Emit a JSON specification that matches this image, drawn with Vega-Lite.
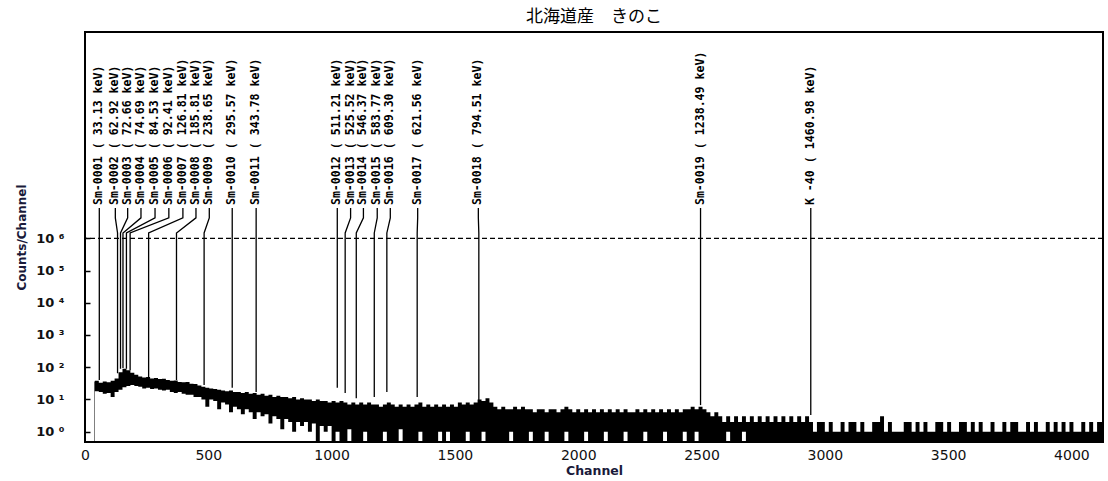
{
  "$schema": "https://vega.github.io/schema/vega-lite/v6.json",
  "width": 1018,
  "height": 410,
  "autosize": {"type": "none"},
  "padding": {"left": 85, "top": 32, "right": 5, "bottom": 39},
  "background": "white",
  "title": {"text": "北海道産　きのこ", "font": "Noto Sans CJK JP", "fontSize": 17, "fontWeight": "normal", "color": "#000", "offset": 6, "anchor": "middle"},
  "config": {"view": {"stroke": "#000", "strokeWidth": 2}},
  "datasets": {
    "spec": [
      {"c":38,"h":36,"l":0.5},{"c":40,"h":38,"l":18},{"c":56,"h":33,"l":17},{"c":72,"h":36,"l":15},{"c":88,"h":34,"l":16},{"c":104,"h":38,"l":12},{"c":120,"h":45,"l":17},
      {"c":136,"h":70,"l":20},{"c":152,"h":90,"l":24},{"c":168,"h":80,"l":26},{"c":184,"h":68,"l":28},{"c":200,"h":58,"l":26},
      {"c":216,"h":52,"l":25},{"c":232,"h":48,"l":22},{"c":248,"h":50,"l":23},{"c":264,"h":45,"l":21},{"c":280,"h":46,"l":22},{"c":296,"h":43,"l":20},
      {"c":312,"h":44,"l":19},{"c":328,"h":40,"l":20},{"c":344,"h":38,"l":17},{"c":360,"h":39,"l":16},{"c":376,"h":35,"l":17},{"c":392,"h":34,"l":15},
      {"c":408,"h":35,"l":14},{"c":424,"h":31,"l":14},{"c":440,"h":30,"l":12},
      {"c":456,"h":27,"l":12},{"c":472,"h":25,"l":10},{"c":488,"h":23,"l":6},{"c":504,"h":22,"l":10},{"c":520,"h":21,"l":9},{"c":536,"h":20,"l":5},
      {"c":552,"h":19,"l":8},{"c":568,"h":18,"l":7},{"c":584,"h":19,"l":4},{"c":600,"h":17,"l":6},
      {"c":616,"h":17,"l":5},{"c":632,"h":16,"l":3.5},{"c":648,"h":17,"l":5},{"c":664,"h":15,"l":4},{"c":680,"h":16,"l":2.5},{"c":696,"h":14,"l":4},
      {"c":712,"h":15,"l":3},{"c":728,"h":13,"l":3.5},{"c":744,"h":14,"l":1.8},{"c":760,"h":12,"l":3},{"c":776,"h":13,"l":2.5},{"c":792,"h":12,"l":1.2},
      {"c":808,"h":12,"l":2.5},{"c":824,"h":11,"l":2},{"c":840,"h":12,"l":1},{"c":856,"h":10,"l":2},{"c":872,"h":11,"l":1.5},{"c":888,"h":10,"l":2},
      {"c":904,"h":10,"l":1},{"c":920,"h":9,"l":1.8},{"c":936,"h":10,"l":0.5},{"c":952,"h":9,"l":1.5},{"c":968,"h":9,"l":1},{"c":984,"h":8,"l":1.5},
      {"c":1000,"h":9,"l":0.5},{"c":1016,"h":8,"l":1},{"c":1032,"h":9,"l":0.5},{"c":1048,"h":8,"l":0.5},{"c":1064,"h":7,"l":1.2},{"c":1080,"h":8,"l":0.5},
      {"c":1096,"h":7,"l":0.5},{"c":1112,"h":8,"l":0.5},{"c":1128,"h":7,"l":1},{"c":1144,"h":8,"l":0.5},{"c":1160,"h":7,"l":0.5},{"c":1176,"h":7,"l":0.5},
      {"c":1192,"h":6,"l":0.5},{"c":1208,"h":7,"l":1},{"c":1224,"h":8,"l":0.5},{"c":1240,"h":7,"l":0.5},{"c":1256,"h":6,"l":0.5},{"c":1272,"h":7,"l":1.2},
      {"c":1288,"h":6,"l":0.5},{"c":1304,"h":7,"l":0.5},{"c":1320,"h":6,"l":0.5},{"c":1336,"h":7,"l":0.5},{"c":1352,"h":8,"l":1},{"c":1368,"h":6,"l":0.5},
      {"c":1384,"h":7,"l":0.5},{"c":1400,"h":6,"l":0.5},{"c":1416,"h":7,"l":0.5},{"c":1432,"h":6,"l":1},{"c":1448,"h":7,"l":0.5},{"c":1464,"h":6,"l":1},
      {"c":1480,"h":7,"l":0.5},{"c":1496,"h":6,"l":0.5},
      {"c":1512,"h":8,"l":0.5},{"c":1528,"h":7,"l":0.5},{"c":1544,"h":8,"l":1},{"c":1560,"h":7,"l":0.5},{"c":1576,"h":8,"l":0.5},{"c":1592,"h":10,"l":0.5},
      {"c":1608,"h":9,"l":1},{"c":1624,"h":11,"l":0.5},{"c":1640,"h":8,"l":0.5},
      {"c":1656,"h":6,"l":0.5},{"c":1672,"h":5,"l":0.5},{"c":1688,"h":6,"l":0.5},{"c":1704,"h":5,"l":0.5},{"c":1720,"h":5,"l":1},{"c":1736,"h":6,"l":0.5},
      {"c":1752,"h":5,"l":0.5},{"c":1768,"h":6,"l":0.5},{"c":1784,"h":5,"l":0.5},{"c":1800,"h":5,"l":1},{"c":1816,"h":4,"l":0.5},{"c":1832,"h":5,"l":0.5},
      {"c":1848,"h":5,"l":0.5},{"c":1864,"h":4,"l":1},{"c":1880,"h":5,"l":0.5},{"c":1896,"h":5,"l":0.5},{"c":1912,"h":4,"l":0.5},{"c":1928,"h":5,"l":0.5},
      {"c":1944,"h":6,"l":1},{"c":1960,"h":5,"l":0.5},{"c":1976,"h":4,"l":0.5},{"c":1992,"h":5,"l":0.5},{"c":2008,"h":4,"l":0.5},{"c":2024,"h":5,"l":1},
      {"c":2040,"h":4,"l":0.5},{"c":2056,"h":5,"l":0.5},{"c":2072,"h":4,"l":0.5},{"c":2088,"h":5,"l":0.5},{"c":2104,"h":4,"l":1},{"c":2120,"h":5,"l":0.5},
      {"c":2136,"h":4,"l":0.5},{"c":2152,"h":5,"l":0.5},{"c":2168,"h":4,"l":0.5},{"c":2184,"h":5,"l":1},{"c":2200,"h":4,"l":0.5},{"c":2216,"h":4,"l":0.5},
      {"c":2232,"h":5,"l":0.5},{"c":2248,"h":4,"l":0.5},{"c":2264,"h":5,"l":1},{"c":2280,"h":4,"l":0.5},{"c":2296,"h":5,"l":0.5},{"c":2312,"h":4,"l":0.5},
      {"c":2328,"h":5,"l":0.5},{"c":2344,"h":4,"l":1},{"c":2360,"h":5,"l":0.5},{"c":2376,"h":4,"l":0.5},{"c":2392,"h":5,"l":0.5},{"c":2408,"h":4,"l":0.5},
      {"c":2424,"h":5,"l":1},{"c":2440,"h":5,"l":0.5},
      {"c":2456,"h":6,"l":0.5},{"c":2472,"h":5,"l":1},{"c":2488,"h":6,"l":0.5},{"c":2504,"h":5,"l":0.5},{"c":2520,"h":4,"l":0.5},
      {"c":2536,"h":3,"l":0.5},{"c":2552,"h":4,"l":0.5},{"c":2568,"h":3,"l":0.5},{"c":2584,"h":2,"l":0.5},{"c":2600,"h":3,"l":1},{"c":2616,"h":2,"l":0.5},
      {"c":2632,"h":3,"l":0.5},{"c":2648,"h":2,"l":0.5},{"c":2664,"h":3,"l":1},{"c":2680,"h":2,"l":0.5},{"c":2696,"h":3,"l":0.5},{"c":2712,"h":2,"l":0.5},
      {"c":2728,"h":3,"l":0.5},{"c":2744,"h":2,"l":0.5},{"c":2760,"h":3,"l":0.5},{"c":2776,"h":2,"l":0.5},{"c":2792,"h":3,"l":0.5},{"c":2808,"h":2,"l":0.5},
      {"c":2824,"h":3,"l":0.5},{"c":2840,"h":2,"l":0.5},{"c":2856,"h":3,"l":0.5},{"c":2872,"h":2,"l":0.5},{"c":2888,"h":3,"l":0.5},{"c":2904,"h":2,"l":0.5},
      {"c":2920,"h":3,"l":0.5},{"c":2936,"h":2,"l":0.5},
      {"c":2952,"h":1,"l":0.5},{"c":2968,"h":2,"l":0.5},{"c":2984,"h":2,"l":0.5},{"c":3000,"h":1,"l":0.5},{"c":3016,"h":2,"l":0.5},{"c":3032,"h":1,"l":0.5},
      {"c":3048,"h":1,"l":0.5},{"c":3064,"h":2,"l":0.5},{"c":3080,"h":1,"l":0.5},{"c":3096,"h":2,"l":0.5},{"c":3112,"h":2,"l":0.5},{"c":3128,"h":1,"l":0.5},
      {"c":3144,"h":2,"l":0.5},{"c":3160,"h":1,"l":0.5},{"c":3176,"h":1,"l":0.5},{"c":3192,"h":2,"l":0.5},{"c":3208,"h":2,"l":0.5},{"c":3224,"h":3,"l":0.5},
      {"c":3240,"h":1,"l":0.5},{"c":3256,"h":2,"l":0.5},{"c":3272,"h":1,"l":0.5},{"c":3288,"h":1,"l":0.5},{"c":3304,"h":1,"l":0.5},{"c":3320,"h":2,"l":0.5},
      {"c":3336,"h":2,"l":0.5},{"c":3352,"h":1,"l":0.5},{"c":3368,"h":2,"l":0.5},{"c":3384,"h":1,"l":0.5},{"c":3400,"h":2,"l":0.5},{"c":3416,"h":1,"l":0.5},
      {"c":3432,"h":1,"l":0.5},{"c":3448,"h":2,"l":0.5},{"c":3464,"h":2,"l":0.5},{"c":3480,"h":1,"l":0.5},{"c":3496,"h":2,"l":0.5},{"c":3512,"h":1,"l":0.5},
      {"c":3528,"h":1,"l":0.5},{"c":3544,"h":2,"l":0.5},{"c":3560,"h":2,"l":0.5},{"c":3576,"h":1,"l":0.5},{"c":3592,"h":2,"l":0.5},{"c":3608,"h":1,"l":0.5},
      {"c":3624,"h":2,"l":0.5},{"c":3640,"h":1,"l":0.5},{"c":3656,"h":1,"l":0.5},{"c":3672,"h":2,"l":0.5},{"c":3688,"h":1,"l":0.5},{"c":3704,"h":1,"l":0.5},
      {"c":3720,"h":2,"l":0.5},{"c":3736,"h":1,"l":0.5},{"c":3752,"h":2,"l":0.5},{"c":3768,"h":2,"l":0.5},{"c":3784,"h":1,"l":0.5},{"c":3800,"h":1,"l":0.5},
      {"c":3816,"h":2,"l":0.5},{"c":3832,"h":1,"l":0.5},{"c":3848,"h":2,"l":0.5},{"c":3864,"h":1,"l":0.5},{"c":3880,"h":1,"l":0.5},{"c":3896,"h":2,"l":0.5},
      {"c":3912,"h":1,"l":0.5},{"c":3928,"h":2,"l":0.5},{"c":3944,"h":1,"l":0.5},{"c":3960,"h":2,"l":0.5},{"c":3976,"h":1,"l":0.5},{"c":3992,"h":2,"l":0.5},
      {"c":4008,"h":1,"l":0.5},{"c":4024,"h":1,"l":0.5},{"c":4040,"h":2,"l":0.5},{"c":4056,"h":1,"l":0.5},{"c":4072,"h":2,"l":0.5},{"c":4088,"h":1,"l":0.5},
      {"c":4104,"h":2,"l":0.5},{"c":4124,"h":1,"l":0.5}
    ],
    "peaks": [
      {"label":"Sm-0001 (  33.13 keV)","lc":58},
      {"label":"Sm-0002 (  62.92 keV)","lc":123},
      {"label":"Sm-0003 (  72.66 keV)","lc":173},
      {"label":"Sm-0004 (  74.69 keV)","lc":227},
      {"label":"Sm-0005 (  84.53 keV)","lc":284},
      {"label":"Sm-0006 (  92.41 keV)","lc":340},
      {"label":"Sm-0007 ( 126.81 keV)","lc":397},
      {"label":"Sm-0008 ( 185.81 keV)","lc":450},
      {"label":"Sm-0009 ( 238.65 keV)","lc":504},
      {"label":"Sm-0010 ( 295.57 keV)","lc":597},
      {"label":"Sm-0011 ( 343.78 keV)","lc":694},
      {"label":"Sm-0012 ( 511.21 keV)","lc":1023},
      {"label":"Sm-0013 ( 525.52 keV)","lc":1077},
      {"label":"Sm-0014 ( 546.37 keV)","lc":1129},
      {"label":"Sm-0015 ( 583.77 keV)","lc":1185},
      {"label":"Sm-0016 ( 609.30 keV)","lc":1238},
      {"label":"Sm-0017 ( 621.56 keV)","lc":1349},
      {"label":"Sm-0018 ( 794.51 keV)","lc":1595},
      {"label":"Sm-0019 ( 1238.49 keV)","lc":2496},
      {"label":"K -40 ( 1460.98 keV)","lc":2943}
    ],
    "legs": [
      {"p":"01","o":1,"x":58,"y":8700000},{"p":"01","o":2,"x":58,"y":4300000},{"p":"01","o":3,"x":58,"y":1460000},{"p":"01","o":4,"x":58,"y":40},
      {"p":"02","o":1,"x":123,"y":8700000},{"p":"02","o":2,"x":123,"y":4300000},{"p":"02","o":3,"x":132,"y":1460000},{"p":"02","o":4,"x":132,"y":65},
      {"p":"03","o":1,"x":173,"y":8700000},{"p":"03","o":2,"x":173,"y":4300000},{"p":"03","o":3,"x":144,"y":1460000},{"p":"03","o":4,"x":144,"y":90},
      {"p":"04","o":1,"x":227,"y":8700000},{"p":"04","o":2,"x":227,"y":4300000},{"p":"04","o":3,"x":154,"y":1460000},{"p":"04","o":4,"x":154,"y":95},
      {"p":"05","o":1,"x":284,"y":8700000},{"p":"05","o":2,"x":284,"y":4300000},{"p":"05","o":3,"x":168,"y":1460000},{"p":"05","o":4,"x":168,"y":90},
      {"p":"06","o":1,"x":340,"y":8700000},{"p":"06","o":2,"x":340,"y":4300000},{"p":"06","o":3,"x":183,"y":1460000},{"p":"06","o":4,"x":183,"y":80},
      {"p":"07","o":1,"x":397,"y":8700000},{"p":"07","o":2,"x":397,"y":4300000},{"p":"07","o":3,"x":258,"y":1460000},{"p":"07","o":4,"x":258,"y":46},
      {"p":"08","o":1,"x":450,"y":8700000},{"p":"08","o":2,"x":450,"y":4300000},{"p":"08","o":3,"x":371,"y":1460000},{"p":"08","o":4,"x":371,"y":40},
      {"p":"09","o":1,"x":504,"y":8700000},{"p":"09","o":2,"x":504,"y":4300000},{"p":"09","o":3,"x":483,"y":1460000},{"p":"09","o":4,"x":483,"y":28},
      {"p":"10","o":1,"x":597,"y":8700000},{"p":"10","o":2,"x":597,"y":4300000},{"p":"10","o":3,"x":597,"y":1460000},{"p":"10","o":4,"x":597,"y":23},
      {"p":"11","o":1,"x":694,"y":8700000},{"p":"11","o":2,"x":694,"y":4300000},{"p":"11","o":3,"x":694,"y":1460000},{"p":"11","o":4,"x":694,"y":17},
      {"p":"12","o":1,"x":1023,"y":8700000},{"p":"12","o":2,"x":1023,"y":4300000},{"p":"12","o":3,"x":1023,"y":1460000},{"p":"12","o":4,"x":1023,"y":23},
      {"p":"13","o":1,"x":1077,"y":8700000},{"p":"13","o":2,"x":1077,"y":4300000},{"p":"13","o":3,"x":1055,"y":1460000},{"p":"13","o":4,"x":1055,"y":16},
      {"p":"14","o":1,"x":1129,"y":8700000},{"p":"14","o":2,"x":1129,"y":4300000},{"p":"14","o":3,"x":1100,"y":1460000},{"p":"14","o":4,"x":1100,"y":11},
      {"p":"15","o":1,"x":1185,"y":8700000},{"p":"15","o":2,"x":1185,"y":4300000},{"p":"15","o":3,"x":1173,"y":1460000},{"p":"15","o":4,"x":1173,"y":12},
      {"p":"16","o":1,"x":1238,"y":8700000},{"p":"16","o":2,"x":1238,"y":4300000},{"p":"16","o":3,"x":1224,"y":1460000},{"p":"16","o":4,"x":1224,"y":17},
      {"p":"17","o":1,"x":1349,"y":8700000},{"p":"17","o":2,"x":1349,"y":4300000},{"p":"17","o":3,"x":1347,"y":1460000},{"p":"17","o":4,"x":1347,"y":12},
      {"p":"18","o":1,"x":1595,"y":8700000},{"p":"18","o":2,"x":1595,"y":4300000},{"p":"18","o":3,"x":1597,"y":1460000},{"p":"18","o":4,"x":1597,"y":8.5},
      {"p":"19","o":1,"x":2496,"y":8700000},{"p":"19","o":2,"x":2496,"y":4300000},{"p":"19","o":3,"x":2496,"y":1460000},{"p":"19","o":4,"x":2496,"y":6.7},
      {"p":"K40","o":1,"x":2943,"y":8700000},{"p":"K40","o":2,"x":2943,"y":4300000},{"p":"K40","o":3,"x":2943,"y":1460000},{"p":"K40","o":4,"x":2943,"y":3.3}
    ]
  },
  "layer": [
    {
      "data": {"name": "spec"},
      "mark": {"type": "area", "interpolate": "step-after", "color": "#000"},
      "encoding": {
        "x": {"field": "c", "type": "quantitative", "scale": {"domain": [0, 4128], "nice": false, "zero": false},
          "axis": {"values": [0,500,1000,1500,2000,2500,3000,3500,4000], "format": "d", "title": "Channel", "ticks": false, "domain": false, "grid": false,
            "labelFlush": false, "labelFont": "DejaVu Sans", "labelFontSize": 14, "labelColor": "#111", "labelPadding": 6,
            "titleFont": "DejaVu Sans", "titleFontSize": 12.5, "titleFontWeight": "bold", "titleColor": "#1a1a3a", "titlePadding": 2}},
        "y": {"field": "h", "type": "quantitative", "scale": {"type": "log", "domain": [0.48, 2.5e12], "nice": false},
          "axis": {"values": [1,10,100,1000,10000,100000,1000000], "labelExpr": "'10 ' + ['⁰','¹','²','³','⁴','⁵','⁶'][round(log(datum.value)/LN10)]",
            "title": "Counts/Channel", "grid": false, "domain": false, "tickSize": -5, "tickColor": "#000", "tickWidth": 1.5, "labelPadding": 26,
            "labelFont": "DejaVu Sans", "labelFontSize": 13, "labelFontWeight": "bold", "labelColor": "#111",
            "titleFont": "DejaVu Sans", "titleFontSize": 12, "titleFontWeight": "bold", "titleColor": "#1a1a3a", "titlePadding": 7}},
        "y2": {"field": "l"}
      }
    },
    {
      "data": {"name": "legs"},
      "mark": {"type": "line", "color": "#000", "strokeWidth": 1.3},
      "encoding": {
        "x": {"field": "x", "type": "quantitative"},
        "y": {"field": "y", "type": "quantitative"},
        "detail": {"field": "p", "type": "nominal"},
        "order": {"field": "o", "type": "quantitative"}
      }
    },
    {
      "data": {"values": [{"v": 1000000}]},
      "mark": {"type": "rule", "color": "#000", "strokeWidth": 1.3, "strokeDash": [5, 3]},
      "encoding": {
        "y": {"field": "v", "type": "quantitative"}
      }
    },
    {
      "data": {"name": "peaks"},
      "mark": {"type": "text", "angle": 270, "align": "left", "baseline": "middle", "font": "DejaVu Sans Mono", "fontSize": 11.6, "fontWeight": "bold", "color": "#000"},
      "encoding": {
        "x": {"field": "lc", "type": "quantitative"},
        "y": {"datum": 10700000, "type": "quantitative"},
        "text": {"field": "label", "type": "nominal"}
      }
    }
  ]
}
